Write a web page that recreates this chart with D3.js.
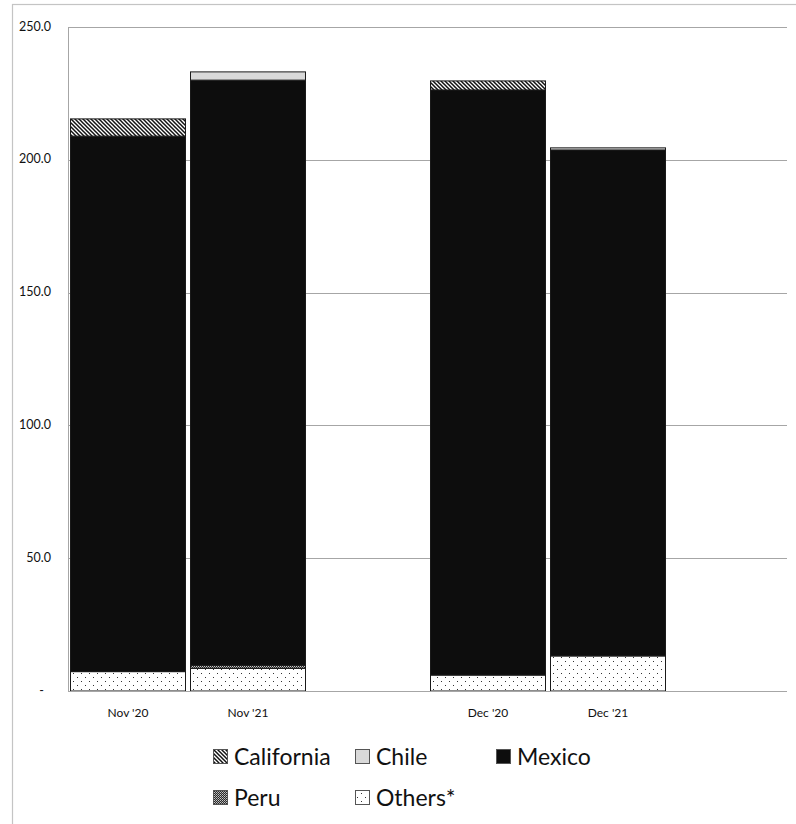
<!DOCTYPE html>
<html>
<head>
<meta charset="utf-8">
<script src="https://cdn.jsdelivr.net/npm/d3@7"></script>
<style>
  html, body { margin: 0; padding: 0; background: #fff; }
  svg { display: block; }
</style>
</head>
<body>
<svg id="chart" width="796" height="824"></svg>
<script>
// Category slots (blank slots leave space after each pair)
const categories = ["Nov '20", "Nov '21", "", "Dec '20", "Dec '21", ""];

// Stacked series, bottom to top
const others     = [7.3, 8.5, 0, 6.0, 13.2, 0];
const peru       = [0, 1.2, 0, 0, 0, 0];
const mexico     = [201.6, 220.3, 0, 220.3, 190.5, 0];
const chile      = [0, 3.1, 0, 0, 0.8, 0];
const california = [6.5, 0, 0, 3.4, 0, 0];

const yTicks = [0, 50, 100, 150, 200, 250];
const yTickLabels = ["-", "50.0", "100.0", "150.0", "200.0", "250.0"];

const seriesNames = ["Others*", "Peru", "Mexico", "Chile", "California"];
const seriesValues = [others, peru, mexico, chile, california];

const svg = d3.select("#chart");
const defs = svg.append("defs");

// Fill patterns
const pCal = defs.append("pattern").attr("id", "pat-cal")
  .attr("patternUnits", "userSpaceOnUse").attr("width", 4).attr("height", 4);
pCal.append("rect").attr("width", 4).attr("height", 4).attr("fill", "#fff");
pCal.append("path").attr("d", "M-1,-1 L5,5 M-1,3 L1,5 M3,-1 L5,1")
  .attr("stroke", "#111").attr("stroke-width", 1.5);

const pPeru = defs.append("pattern").attr("id", "pat-peru")
  .attr("patternUnits", "userSpaceOnUse").attr("width", 2).attr("height", 2);
pPeru.append("rect").attr("width", 2).attr("height", 2).attr("fill", "#2a2a2a");
pPeru.append("rect").attr("width", 1).attr("height", 1).attr("fill", "#c8c8c8");
pPeru.append("rect").attr("x", 1).attr("y", 1).attr("width", 1).attr("height", 1).attr("fill", "#9a9a9a");

const pOth = defs.append("pattern").attr("id", "pat-oth")
  .attr("patternUnits", "userSpaceOnUse").attr("width", 8).attr("height", 8);
pOth.append("rect").attr("width", 8).attr("height", 8).attr("fill", "#fff");
pOth.append("rect").attr("x", 1).attr("y", 1).attr("width", 1).attr("height", 1).attr("fill", "#333");
pOth.append("rect").attr("x", 5).attr("y", 5).attr("width", 1).attr("height", 1).attr("fill", "#333");

const fills = {
  "Others*": "url(#pat-oth)",
  "Peru": "url(#pat-peru)",
  "Mexico": "#0d0d0d",
  "Chile": "#d9d9d9",
  "California": "url(#pat-cal)"
};

// Outer chart frame
svg.append("rect").attr("x", 12.5).attr("y", 4.5).attr("width", 800).attr("height", 830)
  .attr("fill", "#fff").attr("stroke", "#c4c4c4").attr("stroke-width", 1.2);

const plot = { left: 68, right: 788, top: 27, bottom: 691 };

const x = d3.scaleBand()
  .domain(d3.range(categories.length))
  .range([plot.left, plot.right])
  .paddingInner(5 / 120)
  .paddingOuter(2.5 / 120);

const y = d3.scaleLinear().domain([0, 250]).range([plot.bottom, plot.top]);

// Gridlines
svg.append("g").selectAll("line").data(yTicks.filter(d => d > 0)).join("line")
  .attr("x1", plot.left).attr("x2", plot.right - 1)
  .attr("y1", d => Math.round(y(d)) + 0.5).attr("y2", d => Math.round(y(d)) + 0.5)
  .attr("stroke", "#a6a6a6").attr("stroke-width", 1);

// Y axis labels
svg.append("g").selectAll("text").data(yTicks).join("text")
  .attr("x", d => d === 0 ? 44 : 51)
  .attr("y", d => y(d) + 0.5)
  .attr("text-anchor", "end")
  .attr("dominant-baseline", "middle")
  .attr("font-family", "Lato, 'Open Sans', sans-serif")
  .attr("font-size", 12.5)
  .attr("fill", "#111")
  .text((d, i) => yTickLabels[i]);

// Stacked bars
const rows = categories.map((c, i) => {
  const r = { idx: i };
  seriesNames.forEach((s, k) => { r[s] = seriesValues[k][i]; });
  return r;
});
const stacked = d3.stack().keys(seriesNames)(rows);

const gBars = svg.append("g");
stacked.forEach(layer => {
  gBars.append("g").selectAll("rect")
    .data(layer.filter(d => d[1] - d[0] > 0))
    .join("rect")
    .attr("x", d => x(d.data.idx))
    .attr("width", x.bandwidth())
    .attr("y", d => y(d[1]))
    .attr("height", d => y(d[0]) - y(d[1]))
    .attr("fill", fills[layer.key])
    .attr("stroke", "#1a1a1a")
    .attr("stroke-width", 1);
});

// Axis lines
svg.append("line").attr("x1", plot.left + 0.5).attr("x2", plot.left + 0.5)
  .attr("y1", plot.top).attr("y2", plot.bottom)
  .attr("stroke", "#a6a6a6").attr("stroke-width", 1);
svg.append("line").attr("x1", plot.left).attr("x2", plot.right - 1)
  .attr("y1", plot.bottom + 0.5).attr("y2", plot.bottom + 0.5)
  .attr("stroke", "#a6a6a6").attr("stroke-width", 1);

// Category labels
svg.append("g").selectAll("text").data(categories).join("text")
  .attr("x", (d, i) => x(i) + x.bandwidth() / 2)
  .attr("y", 717)
  .attr("text-anchor", "middle")
  .attr("font-family", "Lato, 'Open Sans', sans-serif")
  .attr("font-size", 12)
  .attr("fill", "#111")
  .text(d => d);

// Legend
const legendItems = [
  { name: "California", x: 213, y: 765 },
  { name: "Chile", x: 355, y: 765 },
  { name: "Mexico", x: 496, y: 765 },
  { name: "Peru", x: 213, y: 806 },
  { name: "Others*", x: 355, y: 806 }
];
const gLeg = svg.append("g");
legendItems.forEach(it => {
  gLeg.append("rect")
    .attr("x", it.x + 0.5).attr("y", it.y - 15.5)
    .attr("width", 14).attr("height", 14)
    .attr("fill", fills[it.name])
    .attr("stroke", "#555").attr("stroke-width", 1);
  gLeg.append("text")
    .attr("x", it.x + 21).attr("y", it.y)
    .attr("font-family", "Lato, 'Open Sans', sans-serif")
    .attr("font-size", 23)
    .attr("fill", "#111")
    .text(it.name);
});
</script>
</body>
</html>
